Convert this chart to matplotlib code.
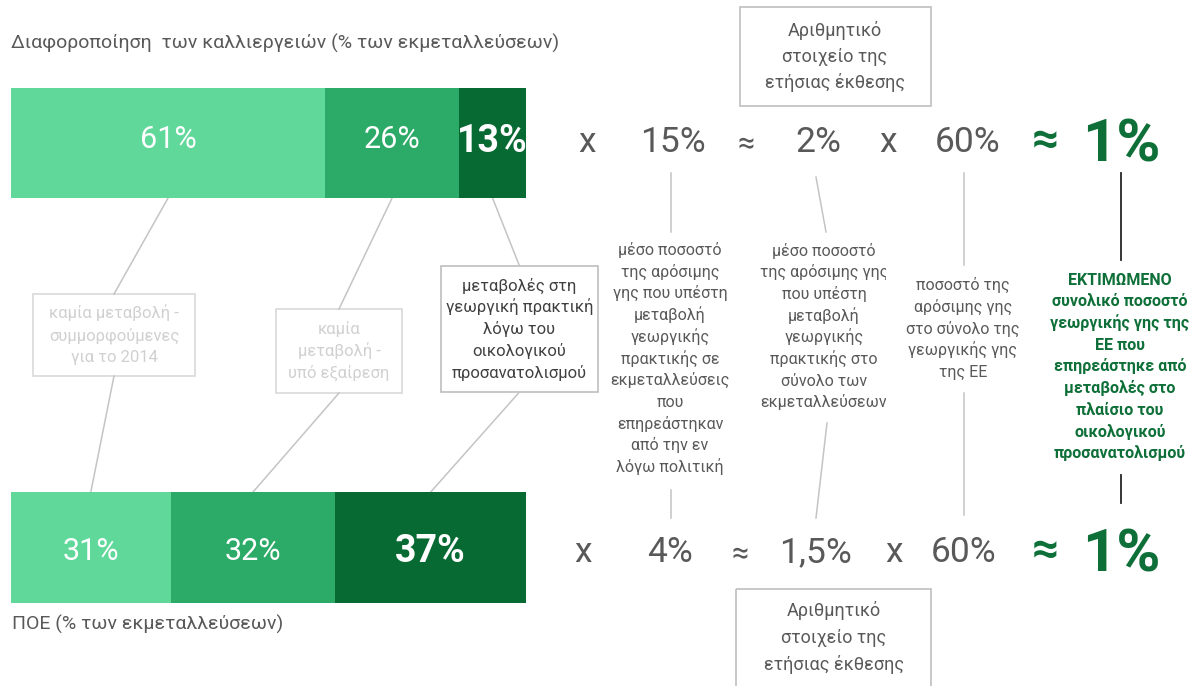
import matplotlib.pyplot as plt
from matplotlib.patches import Rectangle
from matplotlib.transforms import Bbox, TransformedBbox, ScaledTranslation

plt.rcParams['font.family'] = ['Roboto', 'DejaVu Sans']

# shares of holdings (%) in the two bars
div_shares = [61, 26, 13]      # crop diversification
efa_shares = [31, 32, 37]      # ecological focus area
bar_bold = [False, False, True]

div_chain = ["15%", "2%", "60%"]
efa_chain = ["4%", "1,5%", "60%"]
result = "1%"

seg_labels = [
    "καμία μεταβολή -\nσυμμορφούμενες\nγια το 2014",
    "καμία\nμεταβολή -\nυπό εξαίρεση",
    "μεταβολές στη\nγεωργική πρακτική\nλόγω του\nοικολογικού\nπροσανατολισμού",
]
col_texts = [
    "μέσο ποσοστό\nτης αρόσιμης\nγης που υπέστη\nμεταβολή\nγεωργικής\nπρακτικής σε\nεκμεταλλεύσεις\nπου\nεπηρεάστηκαν\nαπό την εν\nλόγω πολιτική",
    "μέσο ποσοστό\nτης αρόσιμης γης\nπου υπέστη\nμεταβολή\nγεωργικής\nπρακτικής στο\nσύνολο των\nεκμεταλλεύσεων",
    "ποσοστό της\nαρόσιμης γης\nστο σύνολο της\nγεωργικής γης\nτης ΕΕ",
    "ΕΚΤΙΜΩΜΕΝΟ\nσυνολικό ποσοστό\nγεωργικής γης της\nΕΕ που\nεπηρεάστηκε από\nμεταβολές στο\nπλαίσιο του\nοικολογικού\nπροσανατολισμού",
]
report_note = "Αριθμητικό\nστοιχείο της\nετήσιας έκθεσης"
title_top = "Διαφοροποίηση  των καλλιεργειών (% των εκμεταλλεύσεων)"
title_bottom = "ΠΟΕ (% των εκμεταλλεύσεων)"

colors = ['#5FD89A', '#2CAA67', '#076A33']
GRAY = '#595959'
LINE = '#C4C4C4'
GREEN = '#0E7038'

W, H = 1203, 686
fig = plt.figure(figsize=(W / 100, H / 100), dpi=100)
ax = fig.add_axes([0, 0, 1, 1])
ax.set_xlim(0, W)
ax.set_ylim(H, 0)
ax.axis('off')


def stack(x, yc, text, pitch, **kw):
    lines = text.split("\n")
    y0 = yc - pitch * (len(lines) - 1) / 2
    out = []
    for i, ln in enumerate(lines):
        out.append(ax.text(x, y0 + i * pitch, ln, ha='center', va='baseline', **kw))
    return out


def bar(shares, top, bottom, sizes, shifts):
    bax = fig.add_axes([11 / W, 1 - bottom / H, 515 / W, (bottom - top) / H])
    left = 0
    centers = []
    for s, c, b, fs, dy in zip(shares, colors, bar_bold, sizes, shifts):
        bax.barh(0, s, left=left, height=1, color=c)
        off = ScaledTranslation(0, -dy / 100, fig.dpi_scale_trans)
        bax.text(left + s / 2, 0, f"{s}%", ha='center', va='baseline', color='white',
                 fontsize=fs, fontweight='bold' if b else 'normal',
                 transform=bax.transData + off)
        centers.append(left + s / 2)
        left += s
    bax.set_xlim(0, 100)
    bax.set_ylim(-0.5, 0.5)
    bax.axis('off')
    # segment centres in the pixel frame of the main axes
    return [ax.transData.inverted().transform(bax.transData.transform((c, 0)))[0]
            for c in centers]


top_c = bar(div_shares, 88, 198, [22, 22, 27], [5, 5, 9])
bot_c = bar(efa_shares, 492, 603, [22, 22, 27], [12.5, 12.5, 14.5])

ax.text(11, 49, title_top, color=GRAY, fontsize=14, va='baseline')
ax.text(12, 630, title_bottom, color=GRAY, fontsize=14, va='baseline')

# boxes on the left with connectors
boxes = [(33, 195, 294, 376), (276, 402, 309, 393), (441, 598, 266, 392)]
box_text = ['#D0D0D0', '#D0D0D0', '#404040']
box_edge = ['#D9D9D9', '#D9D9D9', '#BFBFBF']
for (x0, x1, y0, y1), lab, tc, ec, ct, cb in zip(boxes, seg_labels, box_text, box_edge, top_c, bot_c):
    ax.add_patch(Rectangle((x0, y0), x1 - x0, y1 - y0, fill=False, ec=ec, lw=1.2))
    xm = (x0 + x1) / 2
    ax.plot([ct, xm], [198, y0], color=LINE, lw=1.1)
    ax.plot([xm, cb], [y1, 492], color=LINE, lw=1.1)
    stack(xm, (y0 + y1) / 2 + 5, lab, 21.8, color=tc, fontsize=12)

# equation rows
top_x = [587, 673, 746, 818, 888, 968]
bot_x = [583, 670, 740, 815, 894, 964]
for xs, chain, yc in [(top_x, div_chain, 140), (bot_x, efa_chain, 550)]:
    items = ["x", chain[0], "≈", chain[1], "x", chain[2]]
    for x, t in zip(xs, items):
        fs = 22 if t == "≈" else 25.5
        ax.text(x, yc + 12, t, ha='center', va='baseline', color=GRAY, fontsize=fs)
    ax.text(1045, yc + 14, "≈", ha='center', va='baseline', color=GREEN, fontsize=34, fontweight='bold')
    ax.text(1121, yc + 21, result, ha='center', va='baseline', color=GREEN, fontsize=43, fontweight='bold')

# report boxes
ax.add_patch(Rectangle((740, 7), 191, 99, fill=False, ec='#BFBFBF', lw=1.2))
stack(835, 62, report_note, 26.5, color=GRAY, fontsize=13)
ax.add_patch(Rectangle((736, 589), 195, 120, fill=False, ec='#BFBFBF', lw=1.2))
stack(834, 643, report_note, 26.5, color=GRAY, fontsize=13)

# explanation columns
col_x = [670, 824, 963, 1120]
col_y = [358.5, 326.5, 328.5, 366.5]
for i, (x, y, t) in enumerate(zip(col_x, col_y, col_texts)):
    kw = dict(color=GREEN, fontweight='bold') if i == 3 else dict(color=GRAY)
    txts = stack(x, y + 5, t, 21.7, fontsize=11.5, **kw)
    if i == 1:
        # the text box in the source clips its widest lines on the right
        clip = TransformedBbox(Bbox([[x - 70, 0], [886, H]]), ax.transData)
        for tt in txts:
            tt.set_clip_box(clip)
            tt.set_clip_on(True)

# connector lines right side
segs = [((671, 173), (671, 232)), ((671, 490), (671, 518)),
        ((816, 177), (826, 232)), ((827, 423), (816, 518)),
        ((964, 173), (964, 265)), ((964, 393), (964, 515))]
for (xa, ya), (xb, yb) in segs:
    ax.plot([xa, xb], [ya, yb], color=LINE, lw=1.1)
ax.plot([1121, 1121], [173, 260], color='#262626', lw=1.3)
ax.plot([1121, 1121], [475, 503], color='#262626', lw=1.3)

fig.savefig('out.png', dpi=100)
